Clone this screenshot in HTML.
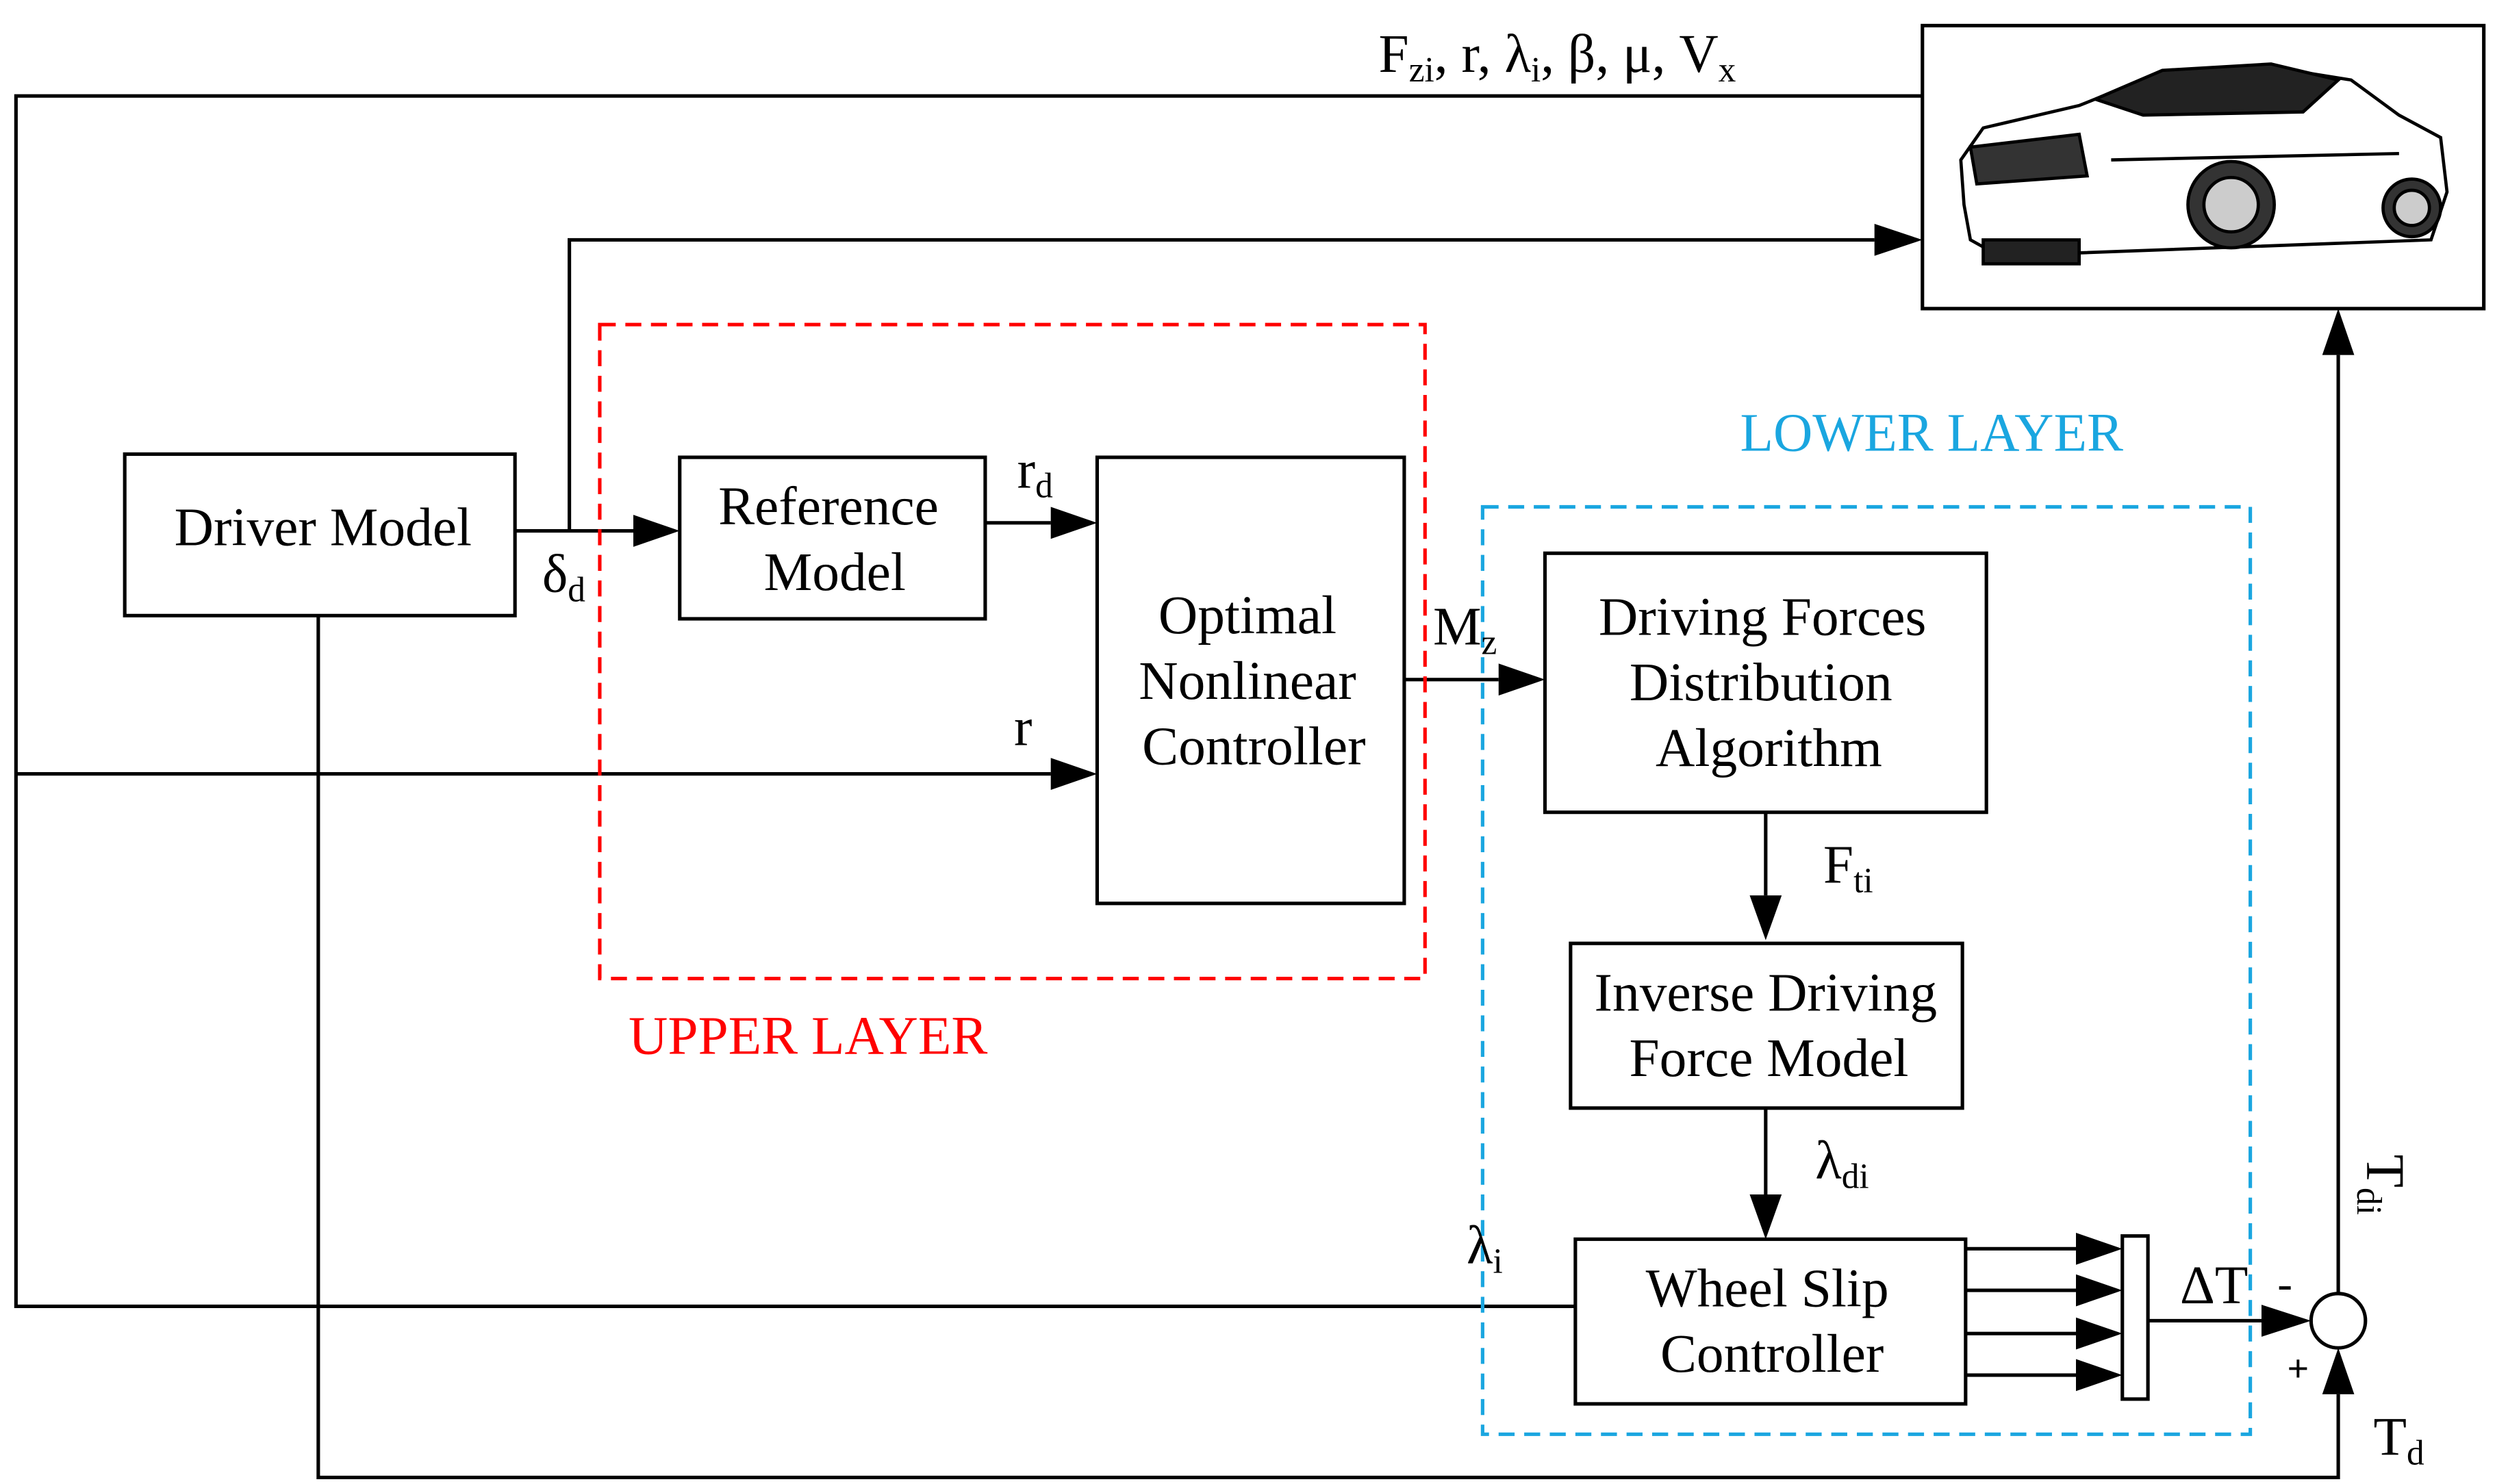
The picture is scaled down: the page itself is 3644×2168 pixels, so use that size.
<!DOCTYPE html>
<html><head><meta charset="utf-8"><style>
html,body{margin:0;padding:0;background:#fff}
svg{display:block}
text{font-family:"Liberation Serif",serif;fill:#000}
</style></head><body>
<svg width="3644" height="2168" viewBox="0 0 1560 928.1" xmlns="http://www.w3.org/2000/svg">
<g stroke="#000" stroke-width="2.2" fill="none">
<rect x="1202" y="16" width="351" height="177"/>
<rect x="78" y="284" width="244" height="101"/>
<rect x="425" y="286" width="191" height="101"/>
<rect x="686" y="286" width="192" height="279"/>
<rect x="966" y="346" width="276" height="162"/>
<rect x="982" y="590" width="245" height="103"/>
<rect x="985" y="775" width="244" height="103"/>
<rect x="1327" y="773" width="16" height="102"/>
<circle cx="1462" cy="826" r="17"/>
<polyline points="1202,60 10,60 10,817 985,817"/>
<polyline points="356,332 356,150 1172,150"/>
<line x1="322" y1="332" x2="396" y2="332"/>
<line x1="616" y1="327" x2="657" y2="327"/>
<line x1="10" y1="484" x2="657" y2="484"/>
<line x1="878" y1="425" x2="937" y2="425"/>
<line x1="1104" y1="508" x2="1104" y2="560"/>
<line x1="1104" y1="693" x2="1104" y2="747"/>
<line x1="1229" y1="781" x2="1298" y2="781"/>
<line x1="1229" y1="807" x2="1298" y2="807"/>
<line x1="1229" y1="834" x2="1298" y2="834"/>
<line x1="1229" y1="860" x2="1298" y2="860"/>
<line x1="1343" y1="826" x2="1414" y2="826"/>
<line x1="1462" y1="809" x2="1462" y2="222"/>
<polyline points="199,385 199,924 1462,924 1462,872"/>
</g>
<rect x="375" y="203" width="516" height="409" fill="none" stroke="#f00" stroke-width="2.2" stroke-dasharray="10,6"/>
<rect x="927" y="317" width="480" height="580" fill="none" stroke="#1aa6e0" stroke-width="2.2" stroke-dasharray="10,6"/>
<g fill="#000">
<polygon points="1202,150 1172,140 1172,160"/>
<polygon points="425,332 396,322 396,342"/>
<polygon points="686,327 657,317 657,337"/>
<polygon points="686,484 657,474 657,494"/>
<polygon points="966,425 937,415 937,435"/>
<polygon points="1104,588 1094,560 1114,560"/>
<polygon points="1104,775 1094,747 1114,747"/>
<polygon points="1327,781 1298,771 1298,791"/>
<polygon points="1327,807 1298,797 1298,817"/>
<polygon points="1327,834 1298,824 1298,844"/>
<polygon points="1327,860 1298,850 1298,870"/>
<polygon points="1445,826 1414,816 1414,836"/>
<polygon points="1462,193 1452,222 1472,222"/>
<polygon points="1462,843 1452,872 1472,872"/>
</g>
<g stroke="#000" stroke-width="2" fill="#fff">
<path d="M1228,128 L1226,100 L1240,80 L1300,66 L1350,46 L1420,42 L1470,50 L1500,72 L1526,86 L1530,120 L1520,150 L1250,160 L1232,150 Z"/>
<path d="M1310,62 L1352,44 L1420,40 L1462,50 L1440,70 L1340,72 Z" fill="#222"/>
<path d="M1232,92 L1300,84 L1305,110 L1236,115 Z" fill="#333"/>
<circle cx="1395" cy="128" r="27" fill="#333"/>
<circle cx="1395" cy="128" r="17" fill="#ccc"/>
<circle cx="1508" cy="130" r="18" fill="#333"/>
<circle cx="1508" cy="130" r="11" fill="#ccc"/>
<path d="M1240,150 L1300,150 L1300,165 L1240,165 Z" fill="#222"/>
<path d="M1320,100 L1500,96" fill="none"/>
</g>
<g font-size="34">
<text x="862" y="45">F<tspan font-size="22" dy="6">zi</tspan><tspan dy="-6">, r, λ</tspan><tspan font-size="22" dy="6">i</tspan><tspan dy="-6">, β, μ, V</tspan><tspan font-size="22" dy="6">x</tspan></text>
<text x="202" y="341" text-anchor="middle">Driver Model</text>
<text x="518" y="328" text-anchor="middle">Reference</text>
<text x="522" y="369" text-anchor="middle">Model</text>
<text x="780" y="396" text-anchor="middle">Optimal</text>
<text x="780" y="437" text-anchor="middle">Nonlinear</text>
<text x="784" y="478" text-anchor="middle">Controller</text>
<text x="1102" y="397" text-anchor="middle">Driving Forces</text>
<text x="1101" y="438" text-anchor="middle">Distribution</text>
<text x="1106" y="479" text-anchor="middle">Algorithm</text>
<text x="1104" y="632" text-anchor="middle">Inverse Driving</text>
<text x="1106" y="673" text-anchor="middle">Force Model</text>
<text x="1105" y="817" text-anchor="middle">Wheel Slip</text>
<text x="1108" y="858" text-anchor="middle">Controller</text>
<text x="339" y="370">δ<tspan font-size="22" dy="6">d</tspan></text>
<text x="636" y="305">r<tspan font-size="22" dy="6">d</tspan></text>
<text x="634" y="466">r</text>
<text x="896" y="403">M<tspan font-size="22" dy="6">z</tspan></text>
<text x="1140" y="552">F<tspan font-size="22" dy="6">ti</tspan></text>
<text x="1135" y="737">λ<tspan font-size="22" dy="6">di</tspan></text>
<text x="917" y="790">λ<tspan font-size="22" dy="6">i</tspan></text>
<text x="1363" y="815">ΔT</text>
<text x="1424" y="812" font-size="28">-</text>
<text x="1430" y="864" font-size="24" font-weight="bold">+</text>
<text x="1484" y="910">T<tspan font-size="22" dy="6">d</tspan></text>
<text transform="translate(1480,722) rotate(90)">T<tspan font-size="22" dy="6">di</tspan></text>
<text x="393" y="659" style="fill:#f00">UPPER LAYER</text>
<text x="1088" y="282" style="fill:#1aa6e0">LOWER LAYER</text>
</g>
</svg>
</body></html>
